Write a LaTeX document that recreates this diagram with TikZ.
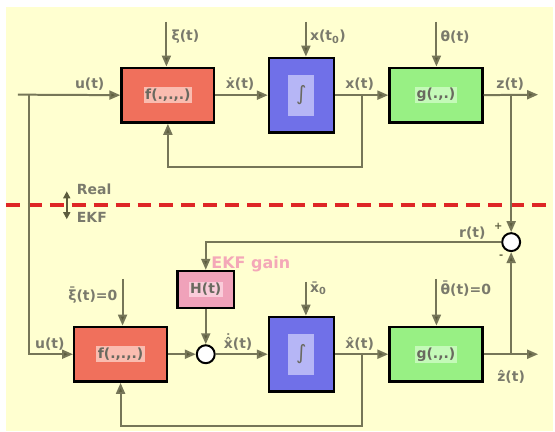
\documentclass[tikz,border=0pt]{standalone}
\usepackage{fontspec}
\setmainfont{DejaVu Sans}
\usepackage{tikz}
\usetikzlibrary{arrows.meta,positioning,calc}
\definecolor{paperYellow}{RGB}{255, 255, 208}
\definecolor{wireOlive}  {RGB}{118, 118, 88}
\definecolor{tipOlive}   {RGB}{92,  92,  62}
\definecolor{labelGray}  {RGB}{122, 122, 108}
\definecolor{boxText}    {RGB}{105, 105, 95}
\definecolor{fRed}       {RGB}{240, 112, 92}
\definecolor{fRedLight}  {RGB}{250, 188, 176}
\definecolor{intBlue}    {RGB}{112, 112, 232}
\definecolor{intBlueLight}{RGB}{182, 182, 246}
\definecolor{gGreen}     {RGB}{152, 240, 132}
\definecolor{gGreenLight}{RGB}{196, 250, 184}
\definecolor{hPink}      {RGB}{240, 162, 186}
\definecolor{hPinkLight} {RGB}{250, 204, 218}
\definecolor{gainPink}   {RGB}{244, 168, 184}
\definecolor{splitRed}   {RGB}{222, 38,  38}
% accents stacked over a letter
\newcommand{\overmark}[3][0em]{\ooalign{#3\cr\hfil\raisebox{#1}{#2}\hfil\cr}}
\newcommand{\dotx}{\overmark{˙}{x}}
\newcommand{\hatx}{\overmark{ˆ}{x}}
\newcommand{\hatdotx}{\ooalign{x\cr\hfil ˆ\hfil\cr\hfil\raisebox{.28em}{˙}\hfil\cr}}
\newcommand{\barx}{\overmark{¯}{x}}
\newcommand{\hatz}{\overmark{ˆ}{z}}

\begin{document}
\begin{tikzpicture}[x=1pt,y=-1pt,
    lbl/.style={font=\bfseries\fontsize{14}{16}\selectfont,text=labelGray,inner sep=0pt},
    blk/.style={draw=black,line width=2.5pt,minimum width=93pt,minimum height=55pt,inner sep=0pt},
    intblk/.style={blk,fill=intBlue,minimum width=65pt,minimum height=75pt},
    tag/.style={font=\bfseries\fontsize{14}{16}\selectfont,text=boxText,inner sep=1.5pt},
    sumc/.style={circle,draw=black,fill=white,line width=2pt,minimum size=18pt,inner sep=0pt},
    sig/.style={draw=wireOlive,line width=2pt,-{Triangle[length=11pt,width=9pt,fill=tipOlive]}},
    wire/.style={draw=wireOlive,line width=2pt}]

  % fondo
  \fill[white] (0,0) rectangle (555,433);
  \fill[paperYellow] (6,7) rectangle (555,433);

  % sistema real
  \node[blk,fill=fRed] (fT) at (168.5,95.5) {};
  \node[tag,fill=fRedLight] (fTt) at (fT) {f(.,.,.)};
  \node[intblk] (iT) at (302.5,95.5) {};
  \node[fill=intBlueLight,minimum width=26pt,minimum height=41pt,inner sep=0pt,
        font=\fontsize{20}{22}\selectfont,text=boxText] (iTt) at (iT) {∫};
  \node[blk,fill=gGreen] (gT) at (437.5,95.5) {};
  \node[tag,fill=gGreenLight] (gTt) at (gT) {g(.,.)};

  \coordinate (uT) at (18,95);
  \coordinate (jU) at (29,95);
  \coordinate (xiT) at (167,22);
  \coordinate (x0T) at (307,22);
  \coordinate (thT) at (438,22);
  \coordinate (jX) at (363,95);
  \coordinate (fbT) at (363,168);
  \coordinate (jZ) at (513,95);
  \coordinate (zT) at (540,95);

  \draw[sig] (uT) -- (fT.west);
  \draw[sig] (xiT) -- (xiT |- fT.north);
  \draw[sig] (fT.east) -- (iT.west);
  \draw[sig] (x0T) -- (x0T |- iT.north);
  \draw[sig] (iT.east) -- (gT.west);
  \draw[sig] (thT) -- (thT |- gT.north);
  \draw[sig] (gT.east) -- (zT);
  \draw[sig] (jX) -- (fbT) -| (fT.south);

  \node[lbl] (uTl) at (90,84) {u(t)};
  \node[lbl,anchor=west] (xiTl) at (172,37) {ξ(t)};
  \node[lbl] (dxTl) at (241,84) {\dotx(t)};
  \node[lbl,anchor=west] (x0Tl) at (311,37) {x(t\textsubscript{0})};
  \node[lbl] (xTl) at (361,84) {x(t)};
  \node[lbl,anchor=west] (thTl) at (442,37) {θ(t)};
  \node[lbl] (zTl) at (512,84) {z(t)};

  % separacion real / EKF
  \draw[splitRed,line width=4pt,dash pattern=on 14pt off 8pt] (6,206) -- (555,206);
  \coordinate (rA) at (67,192);
  \coordinate (rB) at (67,220);
  \draw[tipOlive,line width=1.6pt,{Triangle[length=7pt,width=7pt]}-{Triangle[length=7pt,width=7pt]}] (rA) -- (rB);
  \node[lbl,anchor=west] (realL) at (77,190) {Real};
  \node[lbl,anchor=west] (ekfL) at (77,218) {EKF};

  % filtro EKF
  \node[sumc] (cR) at (513,243) {};
  \node[blk,fill=hPink,minimum width=57pt,minimum height=37pt] (hB) at (206.5,290.5) {};
  \node[tag,fill=hPinkLight] (hBt) at (hB) {H(t)};
  \node[blk,fill=fRed] (fB) at (121,355.5) {};
  \node[tag,fill=fRedLight] (fBt) at (fB) {f(.,.,.)};
  \node[sumc] (cB) at (hB.south |- fB) {};
  \node[intblk] (iB) at (302.5,355.5) {};
  \node[fill=intBlueLight,minimum width=26pt,minimum height=41pt,inner sep=0pt,
        font=\fontsize{20}{22}\selectfont,text=boxText] (iBt) at (iB) {∫};
  \node[blk,fill=gGreen] (gB) at (437.5,355.5) {};
  \node[tag,fill=gGreenLight] (gBt) at (gB) {g(.,.)};

  \coordinate (xiB) at (123,280);
  \coordinate (x0B) at (307,283);
  \coordinate (thB) at (438,280);
  \coordinate (jXB) at (363,355.5);
  \coordinate (fbB) at (363,428);
  \coordinate (jZB) at (513,355.5);
  \coordinate (zB) at (540,355.5);

  \draw[sig] (jU) |- (fB.west);
  \draw[sig] (xiB) -- (xiB |- fB.north);
  \draw[sig] (fB.east) -- (cB.west);
  \draw[sig] (cB.east) -- (iB.west);
  \draw[sig] (x0B) -- (x0B |- iB.north);
  \draw[sig] (iB.east) -- (gB.west);
  \draw[sig] (thB) -- (thB |- gB.north);
  \draw[sig] (gB.east) -- (zB);
  \draw[sig] (jXB) -- (fbB) -| (fB.south);
  \draw[sig] (jZ) -- (cR.north);
  \draw[sig] (jZB) -- (cR.south);
  \draw[sig] (cR.west) -| (hB.north);
  \draw[sig] (hB.south) -- (cB.north);

  \node[lbl] (uBl) at (50,345) {u(t)};
  \node[lbl,anchor=east] (xiBl) at (118,297) {\overmark[.22em]{¯}{ξ}(t)=0};
  \node[lbl] (dxBl) at (239,345) {\hatdotx(t)};
  \node[lbl,anchor=west] (x0Bl) at (311,291) {\barx\textsubscript{0}};
  \node[lbl] (xBl) at (361,345) {\hatx(t)};
  \node[lbl,anchor=west] (thBl) at (442,291) {\overmark[.22em]{¯}{θ}(t)=0};
  \node[lbl] (zBl) at (513,378) {\hatz(t)};
  \node[lbl] (rL) at (474,234) {r(t)};
  \node[lbl,text=tipOlive,font=\bfseries\fontsize{10}{12}\selectfont] (plusL) at (500,227) {+};
  \node[lbl,text=tipOlive,font=\bfseries\fontsize{10}{12}\selectfont] (minusL) at (503,258) {-};
  \node[lbl,anchor=west,text=gainPink,font=\bfseries\fontsize{16}{18}\selectfont] (gainL) at (212,265) {EKF gain};

\end{tikzpicture}
\end{document}
